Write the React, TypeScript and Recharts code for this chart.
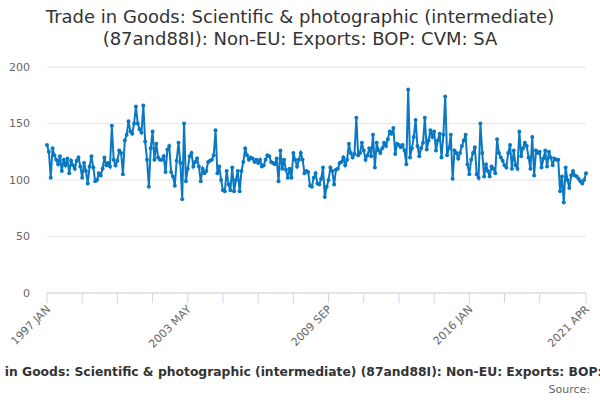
import { CartesianGrid, Line, LineChart, XAxis, YAxis } from 'recharts'

const MONTH_NAMES = ['JAN', 'FEB', 'MAR', 'APR', 'MAY', 'JUN', 'JUL', 'AUG', 'SEP', 'OCT', 'NOV', 'DEC']
const START_YEAR = 1997

// monthly values, 1997 JAN .. 2021 APR
const exportsCvm = [
  131, 125, 102, 128, 122, 118, 114, 121, 108, 118, 113, 119,
  106, 117, 113, 110, 117, 120, 112, 102, 115, 108, 97, 112,
  121, 111, 99, 100, 106, 104, 110, 120, 113, 115, 112, 148,
  118, 113, 117, 126, 124, 105, 135, 140, 152, 143, 141, 150,
  165, 150, 145, 142, 166, 134, 118, 94, 128, 143, 118, 132,
  120, 118, 118, 121, 107, 127, 130, 107, 103, 95, 117, 133,
  115, 83, 150, 99, 110, 121, 124, 112, 116, 119, 112, 99,
  110, 106, 108, 116, 117, 118, 122, 144, 106, 112, 100, 91,
  90, 108, 96, 91, 111, 90, 100, 108, 90, 108, 116, 128,
  122, 118, 120, 119, 116, 118, 115, 118, 112, 113, 118, 122,
  121, 116, 115, 114, 119, 99, 126, 110, 118, 109, 102, 110,
  102, 124, 118, 112, 118, 124, 118, 106, 108, 107, 95, 94,
  102, 106, 97, 96, 101, 111, 85, 94, 100, 111, 108, 96,
  109, 110, 115, 116, 120, 113, 118, 132, 124, 120, 123, 155,
  122, 124, 133, 126, 118, 122, 128, 121, 140, 111, 133, 126,
  124, 128, 133, 130, 136, 143, 141, 146, 123, 132, 131, 129,
  131, 126, 114, 180, 120, 128, 138, 153, 130, 121, 128, 133,
  155, 127, 135, 144, 138, 143, 126, 135, 141, 120, 140, 174,
  122, 128, 140, 101, 126, 124, 119, 124, 130, 135, 140, 114,
  105, 118, 124, 129, 105, 102, 150, 124, 103, 114, 108, 103,
  112, 110, 106, 136, 124, 120, 117, 113, 111, 124, 131, 110,
  126, 113, 110, 143, 121, 128, 133, 130, 120, 110, 138, 104,
  126, 124, 125, 111, 119, 126, 112, 125, 120, 113, 119, 118,
  118, 90, 103, 80, 111, 100, 93, 104, 108, 104, 103, 101,
  99, 97, 100, 106,
]

const categories = exportsCvm.map(
  (_, i) => `${START_YEAR + Math.floor(i / 12)} ${MONTH_NAMES[i % 12]}`,
)

const xTicks = [0, 19, 38, 57, 76, 95, 114, 133, 152, 171, 190, 209, 228, 247, 266, 291]
const labelledTicks = [0, 76, 152, 228, 291]
const yTicks = [0, 50, 100, 150, 200]

const SERIES_NAME =
  'Trade in Goods: Scientific & photographic (intermediate) (87and88I): Non-EU: Exports: BOP: CVM: SA'

const data = exportsCvm.map((value, idx) => ({ idx, period: categories[idx], value }))

const LINE_COLOR = '#0a78c2'
const FONT = '"DejaVu Sans", sans-serif'

function MonthTick(props: any) {
  const { x, y, payload } = props
  if (!labelledTicks.includes(payload.value)) return null
  const tx = x + 4
  const ty = y + 5
  return (
    <text
      x={tx}
      y={ty}
      transform={`rotate(-45 ${tx} ${ty})`}
      textAnchor="end"
      fontSize={11}
      fill="#666"
      fontFamily={FONT}
    >
      {categories[payload.value]}
    </text>
  )
}

export default function App() {
  return (
    <div
      style={{
        position: 'absolute',
        top: 0,
        left: 0,
        width: 600,
        height: 400,
        overflow: 'hidden',
        background: '#fff',
        fontFamily: FONT,
      }}
    >
      <LineChart
        width={600}
        height={400}
        data={data}
        margin={{ top: 67, right: 14, bottom: 47, left: 0 }}
        style={{ position: 'absolute', top: 0, left: 0 }}
      >
        <CartesianGrid vertical={false} stroke="#e6e6e6" />
        <XAxis
          type="number"
          dataKey="idx"
          domain={[0, 291]}
          ticks={xTicks}
          interval={0}
          height={60}
          stroke="#ccd6eb"
          tickSize={10}
          tick={<MonthTick />}
        />
        <YAxis
          domain={[0, 200]}
          ticks={yTicks}
          width={47}
          axisLine={false}
          tickLine={false}
          tickSize={0}
          tickMargin={17}
          tick={{ fontSize: 11, fill: '#666', fontFamily: FONT }}
        />
        <Line
          type="linear"
          dataKey="value"
          name={SERIES_NAME}
          stroke={LINE_COLOR}
          strokeWidth={2}
          dot={{ r: 2, fill: LINE_COLOR, stroke: LINE_COLOR, strokeWidth: 0 }}
          activeDot={false}
          isAnimationActive={false}
        />
      </LineChart>

      <div
        style={{
          position: 'absolute',
          top: 6,
          left: 0,
          width: 600,
          textAlign: 'center',
          fontSize: 18,
          lineHeight: '22px',
          color: '#333',
        }}
      >
        Trade in Goods: Scientific &amp; photographic (intermediate)
        <br />
        (87and88I): Non-EU: Exports: BOP: CVM: SA
      </div>

      <div
        style={{
          position: 'absolute',
          top: 365,
          left: 0,
          width: 627,
          display: 'flex',
          justifyContent: 'center',
          whiteSpace: 'nowrap',
          fontSize: 12.33,
          fontWeight: 'bold',
          color: '#333',
        }}
      >
        <span>{SERIES_NAME}</span>
      </div>

      <div
        style={{
          position: 'absolute',
          top: 383,
          right: 10,
          fontSize: 11,
          color: '#666',
        }}
      >
        Source:
      </div>
    </div>
  )
}
